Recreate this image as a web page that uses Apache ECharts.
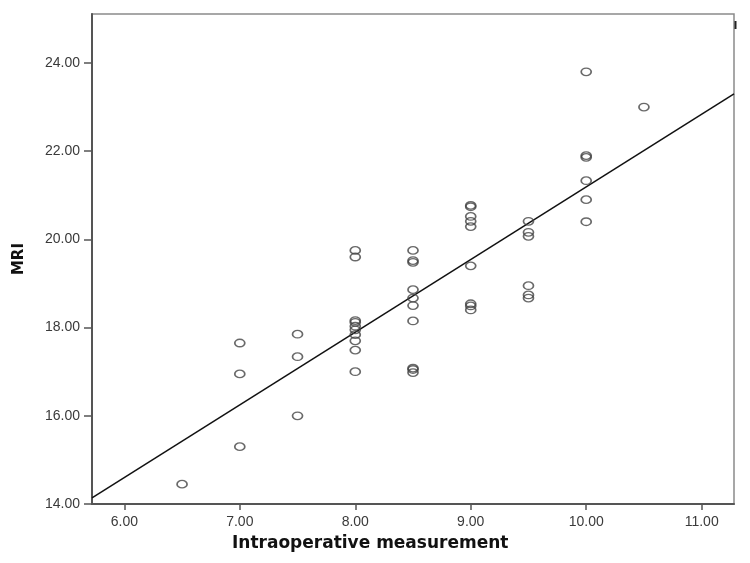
<!DOCTYPE html>
<html>
<head>
<meta charset="utf-8">
<script src="https://cdn.jsdelivr.net/npm/echarts@6/dist/echarts.min.js"></script>
<style>html,body{margin:0;padding:0;background:#fff;}#c{width:750px;height:563px;}</style>
</head>
<body>
<div id="c"></div>
<script>
var xTicks = [6, 7, 8, 9, 10, 11];
var yTicks = [14, 16, 18, 20, 22, 24];
var pointsX = [
  6.5,
  7, 7, 7,
  7.5, 7.5, 7.5,
  8, 8, 8, 8, 8, 8, 8, 8, 8, 8,
  8.5, 8.5, 8.5, 8.5, 8.5, 8.5, 8.5, 8.5, 8.5, 8.5,
  9, 9, 9, 9, 9, 9, 9, 9, 9,
  9.5, 9.5, 9.5, 9.5, 9.5, 9.5,
  10, 10, 10, 10, 10, 10,
  10.5
];
var pointsY = [
  14.45,
  17.65, 16.95, 15.30,
  17.85, 17.34, 16.00,
  19.75, 19.60, 18.16, 18.12, 18.03, 17.95, 17.84, 17.70, 17.49, 17.00,
  19.75, 19.52, 19.48, 18.86, 18.67, 18.50, 18.15, 17.08, 17.05, 16.98,
  20.77, 20.74, 20.52, 20.41, 20.29, 19.40, 18.54, 18.49, 18.40,
  20.41, 20.16, 20.07, 18.95, 18.74, 18.67,
  23.80, 21.90, 21.86, 21.33, 20.90, 20.40,
  23.00
];
var fitX = [5.72, 11.28];
var fitY = [14.14, 23.30];
var xMin = 5.72, xMax = 11.28, yMin = 14, yMax = 25.11;
var xTitle = 'Intraoperative measurement';
var yTitle = 'MRI';

var scatterData = pointsX.map(function (x, i) { return [x, pointsY[i]]; });
var lineData = fitX.map(function (x, i) { return [x, fitY[i]]; });

var chart = echarts.init(document.getElementById('c'), null, {renderer: 'canvas'});
chart.setOption({
  animation: false,
  backgroundColor: '#ffffff',
  grid: {left: 92, top: 14, right: 16, bottom: 59, show: true, borderColor: '#8a8a8a', borderWidth: 1.5},
  graphic: [
    {type: 'text', left: 232, top: 535, style: {text: xTitle, font: 'bold 17px "DejaVu Sans"', fill: '#111'}},
    {type: 'text', left: 12, top: 243, rotation: Math.PI / 2, style: {text: yTitle, font: 'bold 15px "DejaVu Sans"', fill: '#111'}},
    {type: 'rect', left: 734.5, top: 21, shape: {width: 2, height: 8}, style: {fill: '#222'}}
  ],
  xAxis: {
    type: 'value', min: xMin, max: xMax,
    axisLine: {show: true, onZero: false, lineStyle: {color: '#555', width: 2}},
    axisTick: {show: true, inside: false, length: 6, customValues: xTicks, lineStyle: {color: '#555', width: 1.5}},
    axisLabel: {show: true, customValues: xTicks, margin: 11, fontFamily: 'Liberation Sans', fontSize: 14, color: '#3a3a3a',
      formatter: function (v) { return v.toFixed(2); }},
    splitLine: {show: false}
  },
  yAxis: {
    type: 'value', min: yMin, max: yMax,
    axisLine: {show: true, onZero: false, lineStyle: {color: '#555', width: 2}},
    axisTick: {show: true, inside: false, length: 8, customValues: yTicks, lineStyle: {color: '#555', width: 1.5}},
    axisLabel: {show: true, customValues: yTicks, margin: 12, fontFamily: 'Liberation Sans', fontSize: 14, color: '#3a3a3a',
      formatter: function (v) { return v.toFixed(2); }},
    splitLine: {show: false}
  },
  series: [
    {
      type: 'line', data: lineData, symbol: 'none', silent: true,
      lineStyle: {color: '#111', width: 1.5}, z: 3
    },
    {
      type: 'scatter', data: scatterData, symbol: 'circle', symbolSize: [10, 7.5],
      itemStyle: {color: 'rgba(255,255,255,0)', borderColor: '#444', borderWidth: 1.5}, z: 4
    }
  ]
});
</script>
</body>
</html>
